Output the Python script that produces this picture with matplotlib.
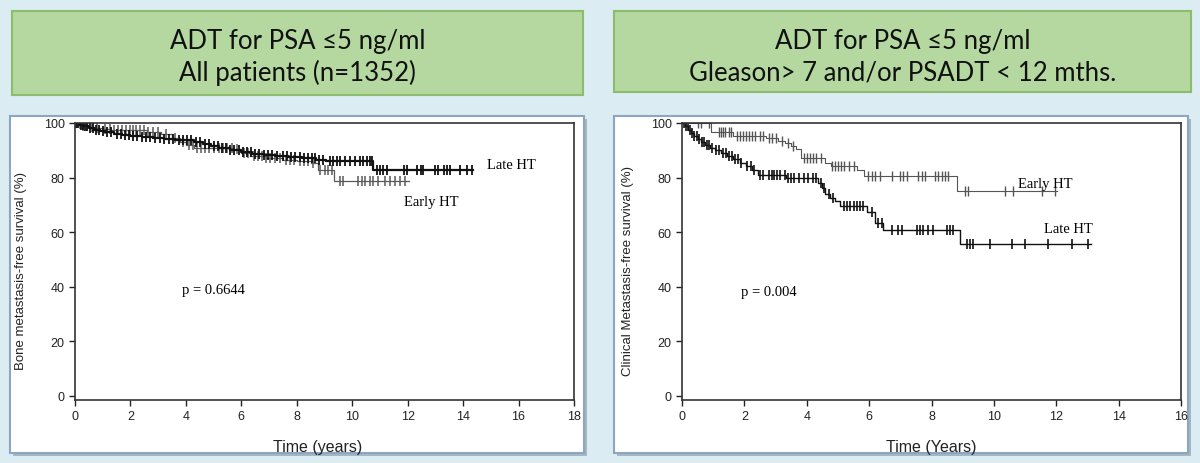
import numpy as np
import matplotlib
matplotlib.use("Agg")
import matplotlib.pyplot as plt
from matplotlib.patches import Rectangle

# ---- data ----
# left panel: all patients, x 0-18
left_late_t = [0, 0.15, 0.3, 0.5, 0.7, 0.9, 1.1, 1.4, 1.7, 2.0, 2.4, 2.8, 3.2, 3.6, 4.0,
               4.3, 4.6, 4.9, 5.2, 5.6, 6.0, 6.4, 6.8, 7.2, 7.7, 8.2, 8.7, 9.05, 10.75]
left_late_s = [100, 99.4, 98.8, 98.2, 97.6, 97.1, 96.6, 96.1, 95.6, 95.2, 94.8, 94.5, 94.2, 93.9, 93.6,
               93.0, 92.3, 91.5, 90.8, 90.1, 89.4, 88.7, 88.2, 87.8, 87.4, 87.0, 86.6, 85.9, 82.6]
left_late_end = 14.35
left_late_cens = [0.05, 0.12, 0.2, 0.28, 0.36, 0.45, 0.55, 0.65, 0.75, 0.85, 1.0, 1.15, 1.3, 1.5,
                  1.65, 1.8, 1.95, 2.1, 2.25, 2.4, 2.55, 2.7, 2.9, 3.05, 3.2, 3.4, 3.55, 3.75, 3.9,
                  4.05, 4.2, 4.35, 4.5, 4.7, 4.85, 5.0, 5.15, 5.3, 5.45, 5.6, 5.75, 5.9, 6.05, 6.2,
                  6.35, 6.5, 6.65, 6.8, 6.95, 7.1, 7.3, 7.5, 7.65, 7.8, 7.95, 8.1, 8.25, 8.4, 8.55,
                  8.65, 8.8, 8.95, 9.2, 9.31, 9.44, 9.56, 9.74, 9.92, 10.1, 10.28, 10.39, 10.52,
                  10.64, 10.7, 10.9, 11.0, 11.1, 11.25, 11.85, 11.97, 12.35, 12.47, 12.57, 13.0,
                  13.1, 13.3, 13.42, 13.53, 13.9, 14.13, 14.31]

left_early_t = [0, 0.1, 0.25, 0.45, 0.7, 1.0, 1.3, 2.6, 3.1, 3.5, 3.8, 4.0, 4.3, 5.7, 6.0, 6.3,
                6.9, 7.5, 8.0, 8.5, 8.75, 9.34]
left_early_s = [100, 99.5, 99.0, 98.6, 98.2, 97.7, 97.3, 96.8, 95.8, 94.5, 93.0, 91.8, 90.8, 90.3,
                89.0, 87.8, 87.2, 86.6, 86.0, 85.3, 82.8, 78.6]
left_early_end = 12.05
left_early_cens = [0.08, 0.18, 0.3, 0.42, 0.6, 0.8, 1.1, 1.25, 1.4, 1.55, 1.7, 1.85, 2.0, 2.1, 2.2,
                   2.35, 2.5, 2.65, 2.8, 3.0, 3.3, 3.6, 3.9, 4.1, 4.25, 4.4, 4.55, 4.7, 4.85, 5.0,
                   5.2, 5.35, 5.5, 5.65, 5.85, 6.1, 6.25, 6.45, 6.6, 6.75, 6.9, 7.05, 7.2, 7.4, 7.6,
                   7.75, 7.9, 8.1, 8.25, 8.4, 8.6, 8.84, 9.02, 9.13, 9.26, 9.56, 9.68, 10.22, 10.34,
                   10.46, 10.64, 10.76, 10.94, 11.18, 11.36, 11.54, 11.72, 11.9]

# right panel: Gleason > 7 and/or PSADT < 12, x 0-16
right_late_t = [0, 0.1, 0.2, 0.3, 0.4, 0.5, 0.6, 0.75, 0.9, 1.05, 1.25, 1.45, 1.65, 1.85, 2.05,
                2.25, 2.45, 3.35, 4.36, 4.48, 4.58, 4.75, 4.91, 5.07, 5.92, 6.19, 6.45, 8.91]
right_late_s = [100, 98.8, 97.5, 96.3, 95.2, 94.0, 93.0, 92.0, 91.0, 90.0, 89.0, 88.0, 86.8, 85.5,
                84.2, 82.6, 81.1, 79.9, 78.1, 76.3, 73.9, 72.7, 71.5, 69.5, 67.5, 63.2, 60.8, 55.5]
right_late_end = 13.1
right_late_cens = [0.05, 0.12, 0.18, 0.25, 0.33, 0.4, 0.47, 0.55, 0.65, 0.72, 0.8, 0.88, 0.95, 1.1,
                   1.2, 1.3, 1.4, 1.5, 1.6, 1.7, 1.78, 1.9, 2.1, 2.2, 2.3, 2.5, 2.6, 2.8, 2.9, 2.95,
                   3.05, 3.15, 3.3, 3.4, 3.5, 3.6, 3.75, 3.9, 4.05, 4.2, 4.3, 4.45, 4.55, 4.7, 4.85,
                   5.2, 5.3, 5.4, 5.5, 5.6, 5.7, 5.8, 6.08, 6.3, 6.4, 6.72, 6.94, 7.04, 7.52, 7.63,
                   7.74, 7.9, 8.06, 8.49, 8.59, 8.7, 9.13, 9.23, 9.34, 9.87, 10.57, 11.0, 11.74,
                   12.49, 13.03]

right_early_t = [0, 0.94, 1.64, 2.7, 3.08, 3.29, 3.5, 3.65, 3.8, 4.6, 4.78, 5.6, 5.85, 8.81]
right_early_s = [100, 96.7, 95.2, 94.6, 93.4, 92.6, 91.5, 90.4, 87.3, 85.4, 84.2, 82.8, 80.4, 74.9]
right_early_end = 12.02
right_early_cens = [0.51, 0.61, 0.85, 1.2, 1.25, 1.3, 1.38, 1.5, 1.57, 1.75, 1.85, 1.95, 2.05, 2.15,
                    2.25, 2.35, 2.5, 2.6, 2.8, 2.9, 3.0, 3.2, 3.4, 3.55, 3.9, 4.0, 4.1, 4.2, 4.3,
                    4.45, 4.8, 4.9, 5.0, 5.1, 5.2, 5.35, 5.5, 5.96, 6.09, 6.19, 6.35, 6.73, 6.99,
                    7.08, 7.21, 7.57, 7.69, 7.79, 8.11, 8.2, 8.34, 8.43, 8.53, 9.07, 9.18, 10.36,
                    10.62, 11.53, 11.96]

titles = [["ADT for PSA \u22645 ng/ml", "All patients (n=1352)"],
          ["ADT for PSA \u22645 ng/ml", "Gleason> 7 and/or PSADT < 12 mths."]]
ylabels = ["Bone metastasis-free survival (%)", "Clinical Metastasis-free survival (%)"]
xlabels = ["Time (years)", "Time (Years)"]

W, H = 1200, 464
BG = "#dbecf3"

fig = plt.figure(figsize=(12, 4.64), dpi=100)
fig.patch.set_facecolor(BG)


def box(x0, y0, x1, y1):
    # pixel box (top-left origin) -> figure fraction rect
    return [x0 / W, 1 - y1 / H, (x1 - x0) / W, (y1 - y0) / H]


def rect(x0, y0, x1, y1, **kw):
    b = box(x0, y0, x1, y1)
    fig.add_artist(Rectangle((b[0], b[1]), b[2], b[3], transform=fig.transFigure,
                             zorder=-10, **kw))


# title boxes
title_boxes = [(12, 12, 583, 96), (614, 12, 1191, 93)]
for (x0, y0, x1, y1), lines in zip(title_boxes, titles):
    rect(x0, y0, x1, y1, facecolor="#b5d8a0", edgecolor="#8cbd6c", lw=1.5)
    xc = (x0 + x1) / 2 / W
    fig.text(xc, 1 - 41 / H, lines[0], ha="center", va="center", fontsize=18.5,
             family=["Lato", "DejaVu Sans"], color="#111")
    fig.text(xc, 1 - 73 / H, lines[1], ha="center", va="center", fontsize=18.5,
             family=["Lato", "DejaVu Sans"], color="#111")

# white panels with shadow
panels = [(10, 117, 584, 454), (614, 117, 1188, 454)]
for x0, y0, x1, y1 in panels:
    rect(x0 + 3, y0 + 3, x1 + 3, y1 + 3, facecolor="#a7b6c0", edgecolor="none")
    rect(x0, y0, x1, y1, facecolor="white", edgecolor="#8aa6c0", lw=1.5)

ax1 = fig.add_axes(box(75, 124, 574, 401))
ax2 = fig.add_axes(box(682, 124, 1181, 401))


def km(ax, t, s, t_end, cens, color, lw, ms=7, mew=1.0):
    tt = list(t) + [t_end]
    ss = list(s) + [s[-1]]
    ax.step(tt, ss, where="post", color=color, lw=lw)
    idx = np.searchsorted(t, cens, side="right") - 1
    ax.plot(cens, np.array(s)[idx], ls="none", marker="|", ms=ms, mew=mew, color=color)


km(ax1, left_early_t, left_early_s, left_early_end, left_early_cens, "#5a5a5a", 0.9, 7, 1.1)
km(ax1, left_late_t, left_late_s, left_late_end, left_late_cens, "#111111", 1.6, 7, 1.3)
km(ax2, right_early_t, right_early_s, right_early_end, right_early_cens, "#555555", 0.8)
km(ax2, right_late_t, right_late_s, right_late_end, right_late_cens, "#111111", 1.0, 7, 1.2)

serif = ["Liberation Serif", "DejaVu Serif"]
ax1.text(14.85, 84.7, "Late HT", fontsize=10.5, family=serif, va="center")
ax1.text(11.85, 71.2, "Early HT", fontsize=10.5, family=serif, va="center")
ax1.text(3.87, 39, "p = 0.6644", fontsize=10.5, family=serif, va="center")
ax2.text(10.77, 77.7, "Early HT", fontsize=10.5, family=serif, va="center")
ax2.text(11.6, 61.3, "Late HT", fontsize=10.5, family=serif, va="center")
ax2.text(1.9, 38.2, "p = 0.004", fontsize=10.5, family=serif, va="center")

sans = ["Liberation Sans", "DejaVu Sans"]
for ax, xmax, yl, xl in [(ax1, 18, ylabels[0], xlabels[0]), (ax2, 16, ylabels[1], xlabels[1])]:
    ax.set_xlim(0, xmax)
    ax.set_ylim(-1.5, 100)
    ax.set_xticks(range(0, xmax + 1, 2))
    ax.set_yticks(range(0, 101, 20))
    ax.tick_params(direction="out", length=4, width=1, labelsize=9, colors="#222",
                   top=False, right=False)
    for lab in ax.get_xticklabels() + ax.get_yticklabels():
        lab.set_family(sans)
    for sp in ax.spines.values():
        sp.set_linewidth(1.2)
        sp.set_color("#333")
    ax.set_ylabel(yl, fontsize=9.5, family=sans, color="#222")
    ax.yaxis.set_label_coords(-0.097, 0.47)
    ax.set_xlabel(xl, fontsize=11.5, family=sans, color="#222")
    ax.set_facecolor("white")

ax1.xaxis.set_label_coords(0.487, -0.14)
ax2.xaxis.set_label_coords(0.499, -0.14)

fig.savefig("out.png", dpi=100, facecolor=BG)
